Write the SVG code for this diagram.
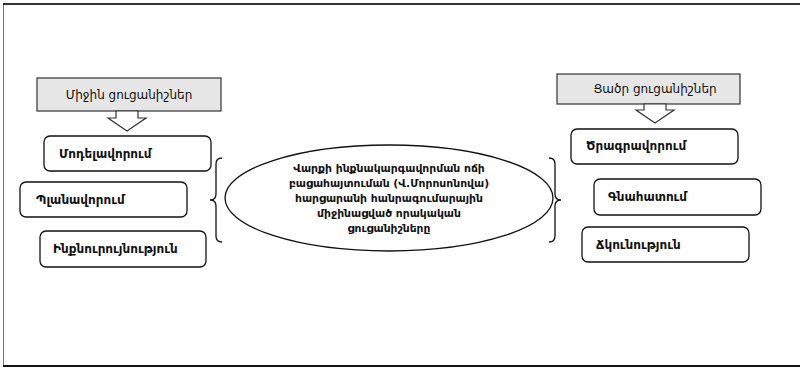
<svg xmlns="http://www.w3.org/2000/svg" width="800" height="368" viewBox="0 0 800 368">
<style>
.head{fill:#e6e6e6;stroke:#333;stroke-width:1.2}
.arr{fill:#fff;stroke:#333;stroke-width:1.2;stroke-linejoin:miter}
.node{fill:#fff;stroke:#111;stroke-width:1.3}
.ht{font-family:"DejaVu Sans",sans-serif;font-size:12px;fill:#111;text-anchor:middle}
.nt{font-family:"DejaVu Sans",sans-serif;font-size:12px;font-weight:bold;fill:#111}
.et{font-family:"DejaVu Sans",sans-serif;font-size:10.8px;font-weight:bold;fill:#111;text-anchor:middle}
.br{fill:none;stroke:#111;stroke-width:1.3}
</style>
<rect width="800" height="368" fill="#fff"/>
<g id="frame">
<line x1="3.5" y1="4" x2="3.5" y2="366" stroke="#777" stroke-width="1"/>
<line x1="3" y1="4" x2="800" y2="4" stroke="#333" stroke-width="2"/>
<line x1="3" y1="366" x2="800" y2="366" stroke="#111" stroke-width="2"/>
</g>
<g id="left-heading">
<rect class="head" x="37" y="78" width="184" height="33"/>
<text class="ht" x="129" y="99">Միջին ցուցանիշներ</text>
</g>
<g id="right-heading">
<rect class="head" x="557" y="74" width="183" height="30"/>
<text class="ht" x="655" y="93">Ցածր ցուցանիշներ</text>
</g>
<g id="connectors">
<path class="arr" d="M116,111 L138,111 L138,118 L146,118 L127,131 L108,118 L116,118 Z"/>
<path class="arr" d="M644,104 L666,104 L666,110 L674,110 L655,123 L636,110 L644,110 Z"/>
<path class="br" d="M222,158 Q216,158 216,164 L216,194 Q216,200 210,200 Q216,200 216,206 L216,236 Q216,242 222,242"/>
<path class="br" d="M549,158 Q555,158 555,164 L555,194 Q555,200 561,200 Q555,200 555,206 L555,236 Q555,242 549,242"/>
</g>
<g id="n-modelavorum">
<rect class="node" x="44" y="136" width="167" height="35" rx="6"/>
<text class="nt" x="59" y="158">Մոդելավորում</text>
</g>
<g id="n-planavorum">
<rect class="node" x="20" y="182" width="167" height="35" rx="6"/>
<text class="nt" x="36" y="204">Պլանավորում</text>
</g>
<g id="n-inqnuruyn">
<rect class="node" x="40" y="231" width="166" height="36" rx="6"/>
<text class="nt" x="53" y="253">Ինքնուրույնություն</text>
</g>
<g id="center">
<ellipse cx="389" cy="198" rx="164" ry="53" fill="#fff" stroke="#111" stroke-width="1.3"/>
<text class="et" x="389" y="172">Վարքի ինքնակարգավորման ոճի</text>
<text class="et" x="389" y="187">բացահայտուման (Վ.Մորոսոնովա)</text>
<text class="et" x="389" y="202">հարցարանի հանրագումարային</text>
<text class="et" x="389" y="217">միջինացված որակական</text>
<text class="et" x="389" y="232">ցուցանիշները</text>
</g>
<g id="n-tsragravorum">
<rect class="node" x="571" y="129" width="167" height="35" rx="6"/>
<text class="nt" x="586" y="150">Ծրագրավորում</text>
</g>
<g id="n-gnahatum">
<rect class="node" x="594" y="179" width="167" height="36" rx="6"/>
<text class="nt" x="608" y="201">Գնահատում</text>
</g>
<g id="n-tskunutyun">
<rect class="node" x="582" y="227" width="167" height="35" rx="6"/>
<text class="nt" x="596" y="249">Ճկունություն</text>
</g>
</svg>
